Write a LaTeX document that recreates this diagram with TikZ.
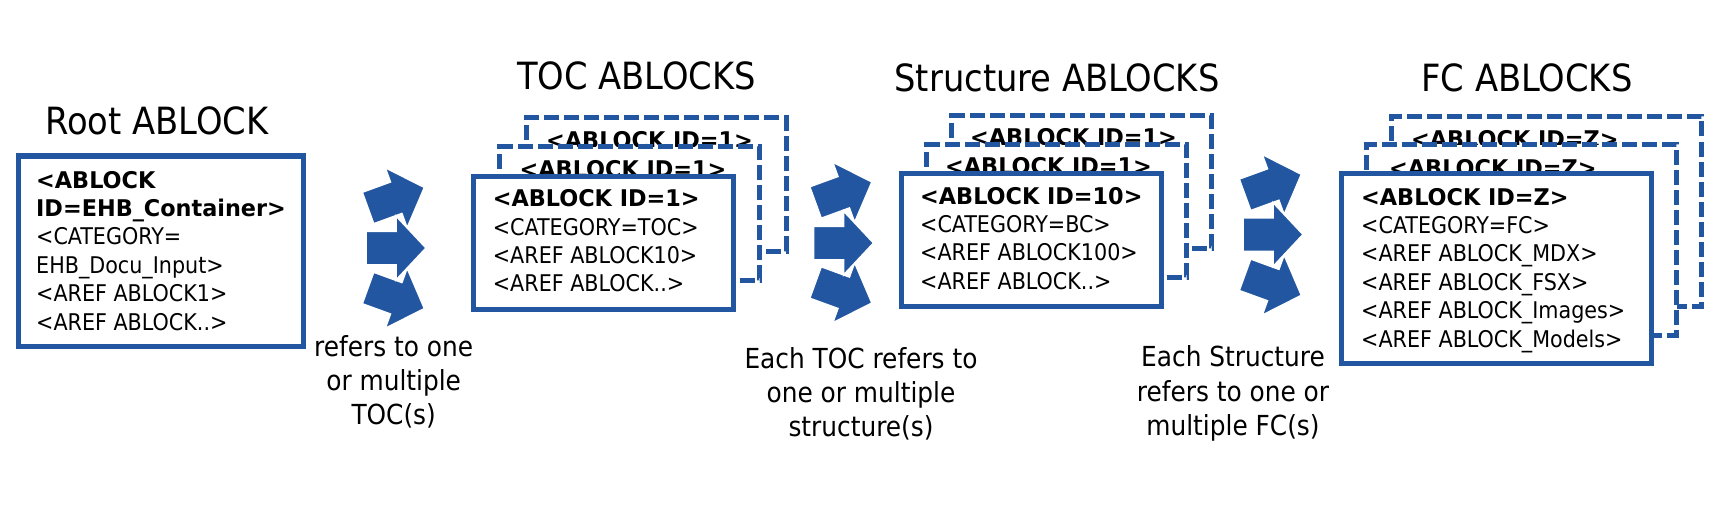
\documentclass[tikz,border=0pt]{standalone}
\usepackage{fontspec}
\setmainfont{DejaVu Sans Condensed}[BoldFeatures={FakeStretch=1.08}]
\definecolor{ablue}{RGB}{34,86,160}
\tikzset{
  ablock/.style n args={2}{rectangle, draw=ablue, line width=5pt, fill=white,
    minimum width=#1, minimum height=#2, inner sep=0pt, outer sep=0pt},
  dashedblock/.style={dash pattern=on 15pt off 5pt},
  boxtext/.style={anchor=base west, align=left, inner sep=0pt,
    font=\fontsize{23}{28.4}\selectfont},
  title/.style={anchor=base, inner sep=0pt, font=\fontsize{37.5}{45}\selectfont},
  note/.style={anchor=base, align=center, inner sep=0pt,
    font=\fontsize{27.6}{34.3}\selectfont},
  rarrow/.pic={\path[fill=ablue, draw=white, line width=1.5pt]
    (0,-16.75) -- (30,-16.75) -- (30,-32) -- (60,0) -- (30,32) -- (30,16.75) -- (0,16.75) -- cycle;}
}
\begin{document}
\begin{tikzpicture}[x=1pt,y=-1pt]
\useasboundingbox[fill=white] (0,0) rectangle (1713,516);

% titles
\node[title] (t1) at (157,135) {Root ABLOCK};
\node[title] (t2) at (636.7,90) {TOC ABLOCKS};
\node[title] (t3) at (1057,91.7) {Structure ABLOCKS};
\node[title] (t4) at (1527,91.7) {FC ABLOCKS};

% root (anchor = baseline of last line)
\node[ablock={285pt}{190pt}] (root) at (160.5,251) {};
\node[boxtext] (rootT) at (36,330) {\textbf{<ABLOCK}\\\textbf{ID=EHB\_Container>}\\<CATEGORY=\\EHB\_Docu\_Input>\\<AREF ABLOCK1>\\<AREF ABLOCK..>};

% TOC
\node[ablock={260pt}{133pt}, dashedblock] (tocC) at (656,184.5) {};
\node[boxtext] (tocCT) at (546,148.7) {\textbf{<ABLOCK ID=1>}};
\node[ablock={260pt}{133pt}, dashedblock] (tocB) at (629.5,213.5) {};
\node[boxtext] (tocBT) at (519.5,177.7) {\textbf{<ABLOCK ID=1>}};
\node[ablock={260pt}{133pt}] (tocA) at (603,242.5) {};
\node[boxtext] (tocAT) at (492.7,291.9) {\textbf{<ABLOCK ID=1>}\\<CATEGORY=TOC>\\<AREF ABLOCK10>\\<AREF ABLOCK..>};

% Structure
\node[ablock={260pt}{133pt}, dashedblock] (stC) at (1081.5,182.25) {};
\node[boxtext] (stCT) at (970,146) {\textbf{<ABLOCK ID=1>}};
\node[ablock={260pt}{133pt}, dashedblock] (stB) at (1056.5,211.25) {};
\node[boxtext] (stBT) at (945,175) {\textbf{<ABLOCK ID=1>}};
\node[ablock={260pt}{133pt}] (stA) at (1031.5,240.25) {};
\node[boxtext] (stAT) at (920,289.2) {\textbf{<ABLOCK ID=10>}\\<CATEGORY=BC>\\<AREF ABLOCK100>\\<AREF ABLOCK..>};

% FC
\node[ablock={310pt}{190pt}, dashedblock] (fcC) at (1546.5,211.5) {};
\node[boxtext] (fcCT) at (1411,148) {\textbf{<ABLOCK ID=Z>}};
\node[ablock={310pt}{190pt}, dashedblock] (fcB) at (1521.5,240) {};
\node[boxtext] (fcBT) at (1389,318.5) {\textbf{<ABLOCK ID=Z>}\\<CATEGORY=FC>\\<AREF ABLOCK\_MDX>\\<AREF ABLOCK\_FSX>\\<AREF ABLOCK\_Images>\\<AREF ABLOCK\_Models>};
\node[ablock={310pt}{190pt}] (fcA) at (1496.5,268.5) {};
\node[boxtext] (fcAT) at (1361,347) {\textbf{<ABLOCK ID=Z>}\\<CATEGORY=FC>\\<AREF ABLOCK\_MDX>\\<AREF ABLOCK\_FSX>\\<AREF ABLOCK\_Images>\\<AREF ABLOCK\_Models>};

% arrow groups
\pic[rotate=20] at (368,208) {rarrow};
\pic[rotate=-20] at (368,288) {rarrow};
\pic at (366,248) {rarrow};

\pic[rotate=20] at (815.5,202.5) {rarrow};
\pic[rotate=-20] at (815.5,282.5) {rarrow};
\pic at (813.5,243) {rarrow};

\pic[rotate=20] at (1245,194.8) {rarrow};
\pic[rotate=-20] at (1245,274.8) {rarrow};
\pic at (1243,234.5) {rarrow};

% notes (anchor = baseline of last line)
\node[note] (n1) at (393.7,424.6) {refers to one\\or multiple\\TOC(s)};
\node[note] (n2) at (861,436.9) {Each TOC refers to\\one or multiple\\structure(s)};
\node[note] (n3) at (1233,435.3) {Each Structure\\refers to one or\\multiple FC(s)};
\end{tikzpicture}
\end{document}
